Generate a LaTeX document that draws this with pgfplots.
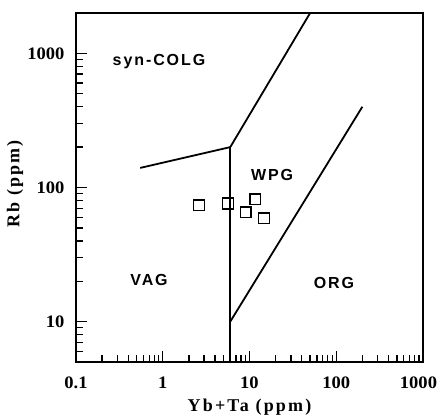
\documentclass[border=0pt]{standalone}
\usepackage{fontspec}
\usepackage{pgfplots}
\pgfplotsset{compat=1.18}
\setmainfont{Liberation Serif}
\newfontfamily\tickfont[FakeStretch=1.06]{Liberation Serif}
\newfontfamily\labfont[LetterSpace=12]{Liberation Serif}
\newfontfamily\fieldfont[LetterSpace=12]{Liberation Sans}

\begin{document}
\begin{tikzpicture}
\path[use as bounding box] (-76bp,-56bp) rectangle (364bp,362bp);
\begin{axis}[
    at={(0,0)}, anchor=south west,
    scale only axis,
    width=347bp, height=349bp,
    xmode=log, ymode=log,
    xmin=0.1, xmax=1000,
    ymin=5, ymax=2000,
    xtick={0.1,1,10,100,1000},
    xticklabels={0.1,1,10,100,1000\kern9bp},
    ytick={10,100,1000},
    yticklabels={10,100,1000},
    minor xtick={0.2,0.3,0.4,0.5,0.6,0.7,0.8,0.9,2,3,4,5,6,7,8,9,20,30,40,50,60,70,80,90,200,300,400,500,600,700,800,900},
    minor ytick={6,7,8,9,20,30,40,50,60,70,80,90,200,300,400,500,600,700,800,900},
    xtick pos=bottom, ytick pos=left,
    tick align=inside,
    major tick length=11bp, minor tick length=7bp,
    every tick/.style={black, line width=1.3bp},
    axis line style={line width=2.2bp},
    ticklabel style={font=\fontsize{17.5bp}{17.5bp}\tickfont\bfseries},
    xticklabel style={yshift=-11bp},
    yticklabel style={xshift=-8bp},
    xlabel={Yb+Ta (ppm)},
    ylabel={Rb (ppm)},
    xlabel style={font=\fontsize{18bp}{18bp}\labfont\bfseries, at={(axis description cs:0.5,-0.129)}, anchor=center},
    ylabel style={font=\fontsize{18bp}{18bp}\labfont\bfseries, at={(axis description cs:-0.176,0.51)}, anchor=center, rotate=0},
    clip=false,
]
% boundaries
\addplot[black, line width=1.8bp] coordinates {(0.55,140) (6,200) (50,2000)};
\addplot[black, line width=2bp] coordinates {(6,5) (6,200)};
\addplot[black, line width=1.8bp] coordinates {(6,10) (200,400)};
% samples
\addplot[only marks, mark=square, mark size=5.3bp, mark options={line width=1.5bp, black}] coordinates {
(2.62,73.6) (5.65,76) (11.6,81.5) (9.1,65.3) (14.7,58.9)};
% field names
\node[font=\fontsize{16bp}{16bp}\fieldfont\bfseries] at (axis cs:0.905,871) {syn-COLG};
\node[font=\fontsize{16bp}{16bp}\fieldfont\bfseries] at (axis cs:18.2,123) {WPG};
\node[font=\fontsize{16bp}{16bp}\fieldfont\bfseries] at (axis cs:0.695,20.5) {VAG};
\node[font=\fontsize{16bp}{16bp}\fieldfont\bfseries] at (axis cs:94,19.5) {ORG};
\end{axis}
\end{tikzpicture}
\end{document}
